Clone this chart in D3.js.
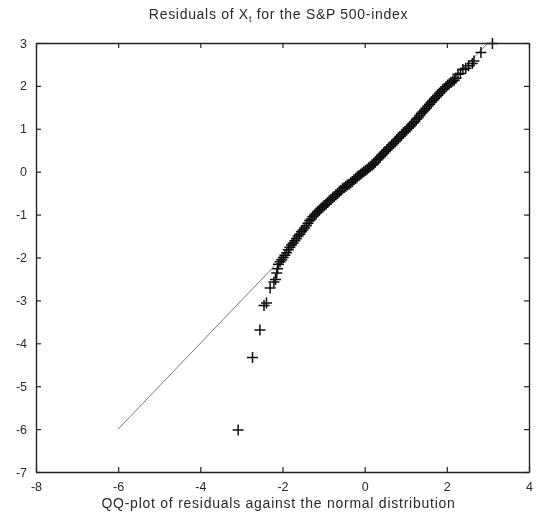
<!DOCTYPE html>
<html>
<head>
<meta charset="utf-8">
<script src="https://cdn.jsdelivr.net/npm/d3@7"></script>
<style>
  html, body { margin: 0; padding: 0; background: #fff; }
  svg { display: block; }
  text { font-family: "Liberation Sans", Arial, Helvetica, sans-serif; fill: #2a2a2a; }
</style>
</head>
<body>
<svg id="chart" width="536" height="519"></svg>
<script>
// Axis tick values
const xTicks = [-8, -6, -4, -2, 0, 2, 4];
const yTicks = [-7, -6, -5, -4, -3, -2, -1, 0, 1, 2, 3];

// Theoretical normal quantiles (x) and sample residual quantiles (y), lower tail
const lowTailX = [-3.08, -2.73, -2.55, -2.45, -2.39, -2.30, -2.21, -2.17, -2.14, -2.12];
const lowTailY = [-6.02, -4.33, -3.69, -3.12, -3.06, -2.71, -2.57, -2.51, -2.36, -2.26];

// Body of the distribution
const bodyX = [-2.10, -2.06, -2.02, -1.98, -1.94, -1.90, -1.86, -1.82, -1.78, -1.74,
  -1.70, -1.66, -1.62, -1.58, -1.54, -1.50, -1.46, -1.42, -1.38, -1.34,
  -1.30, -1.26, -1.22, -1.18, -1.14, -1.10, -1.06, -1.02, -0.98, -0.94,
  -0.90, -0.86, -0.82, -0.78, -0.74, -0.70, -0.66, -0.62, -0.58, -0.54,
  -0.50, -0.46, -0.42, -0.38, -0.34, -0.30, -0.26, -0.22, -0.18, -0.14,
  -0.10, -0.06, -0.02, 0.02, 0.06, 0.10, 0.14, 0.18, 0.22, 0.26,
  0.30, 0.34, 0.38, 0.42, 0.46, 0.50, 0.54, 0.58, 0.62, 0.66,
  0.70, 0.74, 0.78, 0.82, 0.86, 0.90, 0.94, 0.98, 1.02, 1.06,
  1.10, 1.14, 1.18, 1.22, 1.26, 1.30, 1.34, 1.38, 1.42, 1.46,
  1.50, 1.54, 1.58, 1.62, 1.66, 1.70, 1.74, 1.78, 1.82, 1.86,
  1.90, 1.94, 1.98, 2.02, 2.06, 2.10];
const bodyY = [-2.16, -2.10, -2.05, -2.00, -1.95, -1.89, -1.82, -1.76, -1.71, -1.66,
  -1.61, -1.56, -1.50, -1.46, -1.40, -1.36, -1.31, -1.26, -1.20, -1.14,
  -1.10, -1.05, -1.01, -0.97, -0.93, -0.89, -0.85, -0.82, -0.79, -0.76,
  -0.72, -0.68, -0.65, -0.61, -0.58, -0.54, -0.51, -0.47, -0.44, -0.40,
  -0.37, -0.34, -0.31, -0.29, -0.26, -0.23, -0.19, -0.16, -0.12, -0.09,
  -0.06, -0.03, 0.00, 0.03, 0.06, 0.09, 0.12, 0.15, 0.18, 0.22,
  0.27, 0.31, 0.35, 0.39, 0.43, 0.47, 0.51, 0.55, 0.58, 0.62,
  0.66, 0.70, 0.74, 0.78, 0.82, 0.86, 0.90, 0.93, 0.97, 1.01,
  1.05, 1.09, 1.13, 1.17, 1.22, 1.26, 1.31, 1.36, 1.40, 1.44,
  1.48, 1.53, 1.57, 1.62, 1.66, 1.70, 1.74, 1.78, 1.83, 1.87,
  1.91, 1.94, 1.98, 2.02, 2.05, 2.08];

// Upper tail
const highTailX = [2.14, 2.18, 2.22, 2.27, 2.33, 2.39, 2.46, 2.53, 2.62, 2.66, 2.83, 3.11];
const highTailY = [2.11, 2.13, 2.18, 2.27, 2.29, 2.38, 2.41, 2.47, 2.52, 2.58, 2.78, 2.99];

// Reference line y = x, drawn outside the dense body of the data
const refLineX = [[-6, -2.12], [2.1, 3]];

const titleMain = "Residuals of X";
const titleSub = "t";
const titleRest = " for the S&P 500-index";
const xLabel = "QQ-plot of residuals against the normal distribution";

const svg = d3.select("#chart");
const W = 536, H = 519;
const margin = { left: 36, right: 7, top: 43, bottom: 47 };

const x = d3.scaleLinear().domain([-8, 4]).range([margin.left, W - margin.right]);
const y = d3.scaleLinear().domain([-7, 3]).range([H - margin.bottom, margin.top]);

const soft = svg.append("defs").append("filter").attr("id", "soft")
  .attr("x", "-5%").attr("y", "-5%").attr("width", "110%").attr("height", "110%");
soft.append("feGaussianBlur").attr("stdDeviation", 0.5);

const g = svg.append("g").attr("filter", "url(#soft)");

// Reference line segments
g.append("g").selectAll("line").data(refLineX).join("line")
  .attr("x1", d => x(d[0])).attr("y1", d => y(d[0]))
  .attr("x2", d => x(d[1])).attr("y2", d => y(d[1]))
  .attr("stroke", "#777").attr("stroke-width", 1);

// Residual points as '+' markers
const pts = []
  .concat(lowTailX.map((v, i) => [v, lowTailY[i]]))
  .concat(bodyX.map((v, i) => [v, bodyY[i]]))
  .concat(highTailX.map((v, i) => [v, highTailY[i]]));

const arm = 5.5;
g.append("g").selectAll("path").data(pts).join("path")
  .attr("d", d => {
    const cx = x(d[0]), cy = y(d[1]);
    return `M${cx - arm},${cy}H${cx + arm}M${cx},${cy - arm}V${cy + arm}`;
  })
  .attr("fill", "none")
  .attr("stroke", "#111")
  .attr("stroke-width", 1.5);

// Axes with inward ticks on all four sides
const tickLen = 5;
const axB = d3.axisBottom(x).tickValues(xTicks).tickSizeInner(-tickLen).tickSizeOuter(0).tickPadding(10).tickFormat(d => String(d));
const axT = d3.axisTop(x).tickValues(xTicks).tickSizeInner(-tickLen).tickSizeOuter(0).tickFormat("");
const axL = d3.axisLeft(y).tickValues(yTicks).tickSizeInner(-tickLen).tickSizeOuter(0).tickPadding(9).tickFormat(d => String(d));
const axR = d3.axisRight(y).tickValues(yTicks).tickSizeInner(-tickLen).tickSizeOuter(0).tickFormat("");

function styleAxis(sel) {
  sel.select(".domain").attr("stroke", "#222").attr("stroke-width", 1.4);
  sel.selectAll(".tick line").attr("stroke", "#222").attr("stroke-width", 1.2);
  sel.selectAll(".tick text").attr("font-size", 12.5).attr("fill", "#3a3a3a")
    .style("font-family", "'Liberation Sans', Arial, sans-serif");
}

g.append("g").attr("transform", `translate(0,${y(-7)})`).call(axB).call(styleAxis);
g.append("g").attr("transform", `translate(0,${y(3)})`).call(axT).call(styleAxis);
g.append("g").attr("transform", `translate(${x(-8)},0)`).call(axL).call(styleAxis);
g.append("g").attr("transform", `translate(${x(4)},0)`).call(axR).call(styleAxis);

const labelCenter = (x(-8) + x(4)) / 2 - 4;

// Title with subscript
const title = g.append("text")
  .attr("x", labelCenter).attr("y", 19)
  .attr("text-anchor", "middle").attr("font-size", 14)
  .attr("letter-spacing", 0.7).attr("fill", "#3a3a3a");
title.append("tspan").text(titleMain);
title.append("tspan").attr("font-size", 9).attr("dy", 3).text(titleSub);
title.append("tspan").attr("dy", -3).text(titleRest);

// X axis label
g.append("text")
  .attr("x", labelCenter).attr("y", 508)
  .attr("text-anchor", "middle").attr("font-size", 14)
  .attr("letter-spacing", 0.75).attr("fill", "#3a3a3a")
  .text(xLabel);
</script>
</body>
</html>
